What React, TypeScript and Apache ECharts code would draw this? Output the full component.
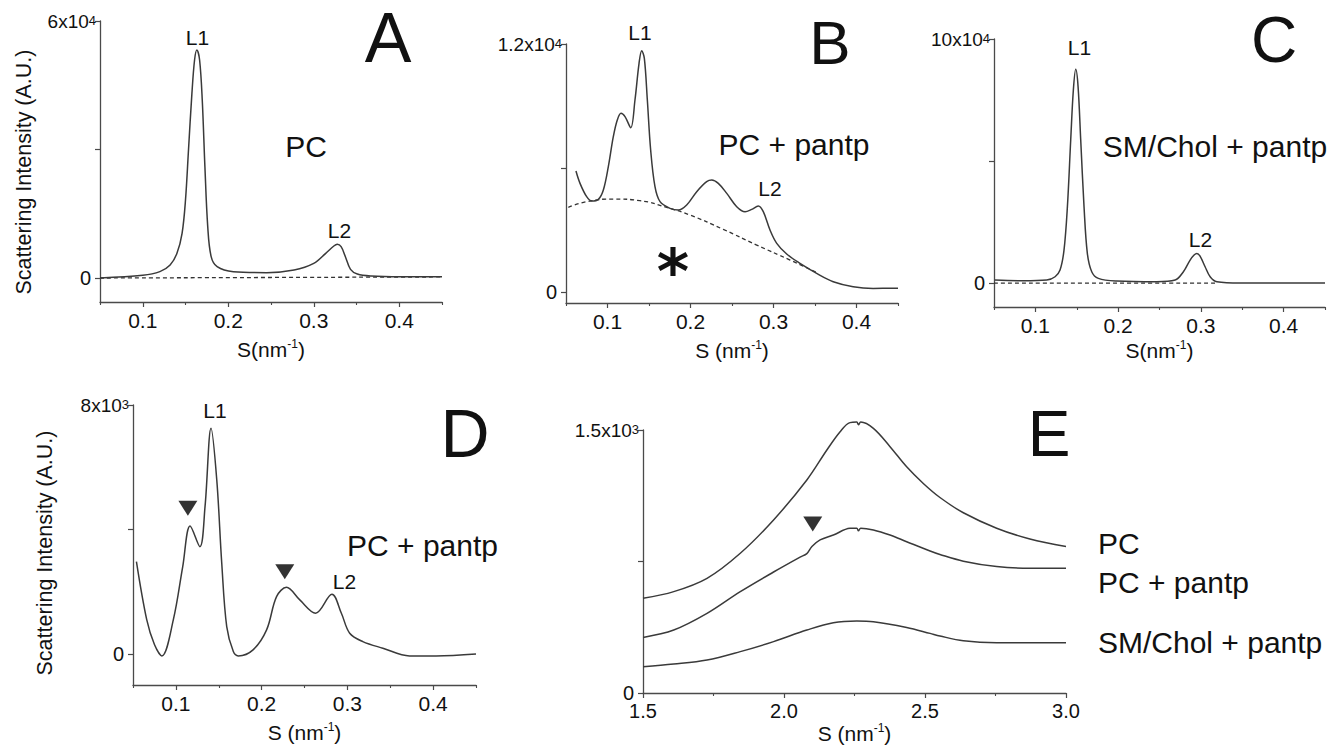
import React, { useEffect, useRef } from "react";
import * as echarts from "echarts";

const FONT = "'Liberation Sans', Arial, Helvetica, sans-serif";
const NARROW = "'Liberation Sans Narrow', 'Arial Narrow', 'Liberation Sans', Arial, sans-serif";
const INK = "#111111";
const AXIS = "#4a4a4a";
const CURVE = "#3a3a3a";

// ---------- data (S in nm^-1, intensity in A.U.) ----------
const curveA: number[][] = [
  [0.05, 0], [0.1, 620], [0.12, 1480], [0.132, 3035], [0.14, 5760], [0.146, 10430],
  [0.15, 18200], [0.1535, 29900], [0.1575, 43100], [0.1606, 50900], [0.1633, 53230],
  [0.1665, 50900], [0.1696, 41560], [0.1727, 26000], [0.176, 12000], [0.18, 5000],
  [0.187, 2650], [0.206, 1480], [0.245, 1250], [0.277, 1870], [0.3, 3420], [0.314, 5760],
  [0.3235, 7470], [0.3275, 7860], [0.332, 7310], [0.337, 4980], [0.343, 2020],
  [0.351, 930], [0.367, 470], [0.402, 310], [0.45, 310],
];
const baseA: number[][] = [[0.05, 0], [0.45, 250]];

const curveB: number[][] = [
  [0.062, 5855], [0.0669, 5258], [0.0749, 4613], [0.081, 4403], [0.089, 4484],
  [0.095, 4935], [0.101, 6065], [0.107, 7516], [0.1118, 8323], [0.1163, 8645],
  [0.1211, 8484], [0.128, 7952], [0.1331, 9290], [0.138, 11065], [0.1412, 11677],
  [0.1444, 11306], [0.148, 9290], [0.152, 6871], [0.1572, 5097], [0.1633, 4371],
  [0.1753, 4048], [0.1853, 3968], [0.1954, 4210], [0.2075, 4855], [0.2195, 5339],
  [0.2256, 5419], [0.2335, 5258], [0.2437, 4774], [0.2557, 4129], [0.2657, 3887],
  [0.2738, 4000], [0.2817, 4161], [0.2877, 3887], [0.2958, 3000], [0.3039, 2355],
  [0.3159, 1839], [0.3319, 1387], [0.352, 903], [0.372, 500], [0.396, 258],
  [0.42, 177], [0.45, 180],
];
const baseB: number[][] = [
  [0.0528, 4097], [0.075, 4371], [0.107, 4500], [0.139, 4419], [0.1713, 4097],
  [0.1994, 3726], [0.2395, 3032], [0.2798, 2274], [0.32, 1548], [0.352, 950],
];

const curveC: number[][] = [
  [0.051, 1230], [0.0855, 956], [0.1137, 1230], [0.1238, 2600], [0.1298, 5330],
  [0.1346, 13500], [0.1387, 31300], [0.1427, 58600], [0.1459, 79100], [0.1488, 87600],
  [0.1516, 80500], [0.1548, 58600], [0.1588, 31300], [0.1628, 12200], [0.1681, 4640],
  [0.1761, 1910], [0.1984, 820], [0.2467, 546], [0.2689, 1230], [0.2789, 4640],
  [0.287, 9430], [0.2918, 11475], [0.2951, 12160], [0.299, 11066], [0.3051, 6694],
  [0.3112, 2596], [0.3193, 546], [0.3475, 0], [0.3877, 0], [0.45, 0],
];
const baseC: number[][] = [[0.05, 0], [0.32, 0]];

const curveD: number[][] = [
  [0.054, 2965], [0.066, 1100], [0.075, 300], [0.0837, -64], [0.097, 1092],
  [0.108, 2805], [0.1166, 4112], [0.128, 3447], [0.134, 4733], [0.141, 7250],
  [0.1477, 5590], [0.1535, 2913], [0.1593, 877], [0.167, 74], [0.1728, -64],
  [0.19, 128], [0.2058, 771], [0.2174, 1841], [0.229, 2142], [0.2445, 1735],
  [0.263, 1307], [0.282, 1917], [0.293, 1307], [0.3027, 665], [0.318, 396],
  [0.3414, 183], [0.3725, -64], [0.4035, -64], [0.45, 0],
];
const markersD: number[][] = [[0.114, 4680], [0.227, 2644]];

const curveE_PC: number[][] = [
  [1.5, 540], [1.609, 578], [1.727, 654], [1.845, 797], [1.963, 987], [2.081, 1215],
  [2.152, 1386], [2.199, 1490], [2.234, 1542], [2.258, 1545], [2.264, 1530],
  [2.272, 1545], [2.317, 1509], [2.376, 1405], [2.435, 1290], [2.494, 1195],
  [2.553, 1115], [2.636, 1028], [2.754, 940], [2.872, 878], [3.0, 835],
];
const curveE_PCpantp: number[][] = [
  [1.5, 317], [1.609, 359], [1.727, 454], [1.845, 578], [1.963, 690], [2.057, 775],
  [2.081, 795], [2.099, 835], [2.128, 873], [2.175, 901], [2.234, 939], [2.258, 940],
  [2.264, 925], [2.272, 940], [2.317, 930], [2.376, 901], [2.435, 863], [2.518, 810],
  [2.553, 790], [2.636, 752], [2.754, 721], [2.872, 711], [3.0, 711],
];
const curveE_SM: number[][] = [
  [1.5, 150], [1.609, 165], [1.727, 188], [1.845, 236], [1.963, 293], [2.081, 359],
  [2.175, 401], [2.258, 411], [2.317, 407], [2.435, 374], [2.518, 340], [2.553, 325],
  [2.636, 298], [2.754, 287], [3.0, 287],
];
const markersE: number[][] = [[2.102, 964]];

// ---------- ticks ----------
const xMajorSmall = [0.1, 0.2, 0.3, 0.4];
const xMinorSmall = [0.05, 0.15, 0.25, 0.35, 0.45];
const xMajorE = [1.5, 2.0, 2.5, 3.0];
const xMinorE = [1.75, 2.25, 2.75];

type Panel = {
  left: number; top: number; width: number; height: number;
  xMin: number; xMax: number; xMajor: number[]; xMinor: number[];
  yMin: number; yMax: number; yTop: [string, string];
  xName: string; nameGap: number; tickFont: string; tickSize: number;
};

const panels: Panel[] = [
  { left: 100, top: 21, width: 342, height: 281, xMin: 0.05, xMax: 0.45, xMajor: xMajorSmall, xMinor: xMinorSmall,
    yMin: -5600, yMax: 60000, yTop: ["6x10", "4"], xName: "S(nm{s|-1})", nameGap: 36, tickFont: FONT, tickSize: 21 },
  { left: 566, top: 44, width: 332, height: 259, xMin: 0.05, xMax: 0.45, xMajor: xMajorSmall, xMinor: xMinorSmall,
    yMin: -530, yMax: 12000, yTop: ["1.2x10", "4"], xName: "S (nm{s|-1})", nameGap: 36, tickFont: FONT, tickSize: 21 },
  { left: 994, top: 39, width: 331, height: 268, xMin: 0.05, xMax: 0.45, xMajor: xMajorSmall, xMinor: xMinorSmall,
    yMin: -9800, yMax: 100000, yTop: ["10x10", "4"], xName: "S(nm{s|-1})", nameGap: 32, tickFont: FONT, tickSize: 21 },
  { left: 133, top: 405, width: 343, height: 280, xMin: 0.05, xMax: 0.45, xMajor: xMajorSmall, xMinor: xMinorSmall,
    yMin: -1000, yMax: 8000, yTop: ["8x10", "3"], xName: "S (nm{s|-1})", nameGap: 36, tickFont: FONT, tickSize: 21 },
  { left: 643, top: 430, width: 423, height: 263, xMin: 1.5, xMax: 3.0, xMajor: xMajorE, xMinor: xMinorE,
    yMin: 0, yMax: 1500, yTop: ["1.5x10", "3"], xName: "S (nm{s|-1})", nameGap: 29, tickFont: NARROW, tickSize: 20 },
];

function txt(text: string, x: number, y: number, size: number, align = "center", rotation = 0, family = FONT, weight = "normal") {
  return {
    type: "text", x, y, rotation, silent: true,
    style: { text, fontSize: size, fontFamily: family, fontWeight: weight, fill: INK, align, verticalAlign: "middle" },
  };
}

export default function App() {
  const ref = useRef<HTMLDivElement>(null);
  useEffect(() => {
    const chart = echarts.init(ref.current!, null, { renderer: "svg" });
    const grid: any[] = [];
    const xAxis: any[] = [];
    const yAxis: any[] = [];
    panels.forEach((p, i) => {
      grid.push({ left: p.left, top: p.top, width: p.width, height: p.height });
      xAxis.push({
        type: "value", gridIndex: i, min: p.xMin, max: p.xMax, position: "bottom",
        axisLine: { show: true, onZero: false, lineStyle: { color: AXIS, width: 1.3 } },
        axisTick: { show: true, length: 5, customValues: p.xMajor, lineStyle: { color: AXIS, width: 1.2 } },
        axisLabel: {
          customValues: p.xMajor, formatter: (v: number) => v.toFixed(1),
          fontSize: p.tickSize, fontFamily: p.tickFont, color: INK, margin: 8,
        },
        splitLine: { show: false },
        name: p.xName, nameLocation: "middle", nameGap: p.nameGap,
        nameTextStyle: {
          fontSize: 21, fontFamily: p.tickFont, color: INK, lineHeight: 22,
          rich: { s: { fontSize: 12, fontFamily: p.tickFont, color: INK, verticalAlign: "top", lineHeight: 12 } },
        },
      });
      xAxis.push({
        type: "value", gridIndex: i, min: p.xMin, max: p.xMax, position: "bottom",
        axisLine: { show: false, onZero: false },
        axisTick: { show: true, length: 3, customValues: p.xMinor, lineStyle: { color: AXIS, width: 1.1 } },
        axisLabel: { show: false }, splitLine: { show: false },
      });
      yAxis.push({
        type: "value", gridIndex: i, min: p.yMin, max: p.yMax,
        axisLine: { show: true, onZero: false, lineStyle: { color: AXIS, width: 1.3 } },
        axisTick: { show: true, length: 5, customValues: [0, p.yMax / 2, p.yMax], lineStyle: { color: AXIS, width: 1.2 } },
        axisLabel: {
          customValues: [0, p.yMax], margin: 4, color: INK,
          formatter: (v: number) => (v === p.yMax ? `{m|${p.yTop[0]}}{s|${p.yTop[1]}}` : "{z|0}"),
          rich: {
            m: { fontSize: 19, fontFamily: FONT, color: INK, lineHeight: 20, padding: [12, 0, 0, 0], verticalAlign: "bottom" },
            s: { fontSize: 13, fontFamily: FONT, color: INK, lineHeight: 13, padding: [3, 0, 0, 0], verticalAlign: "top" },
            z: { fontSize: 20, fontFamily: FONT, color: INK, padding: [0, 5, 0, 0] },
          },
        },
        splitLine: { show: false },
      });
    });

    const line = (data: number[][], i: number, dashed = false) => ({
      type: "line", data, xAxisIndex: 2 * i, yAxisIndex: i, symbol: "none", showSymbol: false,
      smooth: dashed ? 0.5 : 0.35, silent: true, clip: false, z: dashed ? 2 : 3,
      lineStyle: dashed ? { color: "#333", width: 1.3, type: [4, 3] } : { color: CURVE, width: 1.5 },
    });
    const tri = (data: number[][], i: number) => ({
      type: "scatter", data, xAxisIndex: 2 * i, yAxisIndex: i, symbol: "triangle", symbolRotate: 180,
      symbolSize: [19, 15], itemStyle: { color: "#000" }, silent: true, z: 4,
    });

    const series = [
      line(baseA, 0, true), line(curveA, 0),
      line(baseB, 1, true), line(curveB, 1),
      line(baseC, 2, true), line(curveC, 2),
      line(curveD, 3), tri(markersD, 3),
      line(curveE_PC, 4), line(curveE_PCpantp, 4), line(curveE_SM, 4), tri(markersE, 4),
    ];

    const graphic = [
      txt("Scattering Intensity (A.U.)", 24, 172, 21.5, "center", Math.PI / 2),
      txt("Scattering Intensity (A.U.)", 45, 553, 21.5, "center", Math.PI / 2),
      txt("A", 388, 38, 70), txt("PC", 306, 146, 30), txt("L1", 197.5, 37, 21), txt("L2", 339.5, 230, 21),
      txt("B", 830, 42, 62), txt("PC + pantp", 794, 144, 30), txt("L1", 640, 32, 21), txt("L2", 770, 188.5, 21),
      txt("*", 673, 271, 62, "center", 0, "'DejaVu Sans', sans-serif", "bold"),
      txt("C", 1274, 40, 64), txt("SM/Chol + pantp", 1215, 146, 30), txt("L1", 1079.5, 47.5, 21), txt("L2", 1200.5, 239.5, 21),
      txt("D", 465, 433, 68), txt("PC + pantp", 422.5, 545, 30), txt("L1", 215, 410, 21), txt("L2", 344.5, 581.5, 21),
      txt("E", 1049, 434, 64), txt("PC", 1098, 543, 30, "left"), txt("PC + pantp", 1098, 582, 30, "left"),
      txt("SM/Chol + pantp", 1098, 642, 30, "left"),
    ];

    chart.setOption({
      animation: false,
      backgroundColor: "#ffffff",
      textStyle: { fontFamily: FONT },
      grid, xAxis, yAxis, series, graphic,
    });
    return () => chart.dispose();
  }, []);
  return (
    <div
      ref={ref}
      style={{ position: "absolute", left: 0, top: 0, width: 1340, height: 746, background: "#fff" }}
    />
  );
}
